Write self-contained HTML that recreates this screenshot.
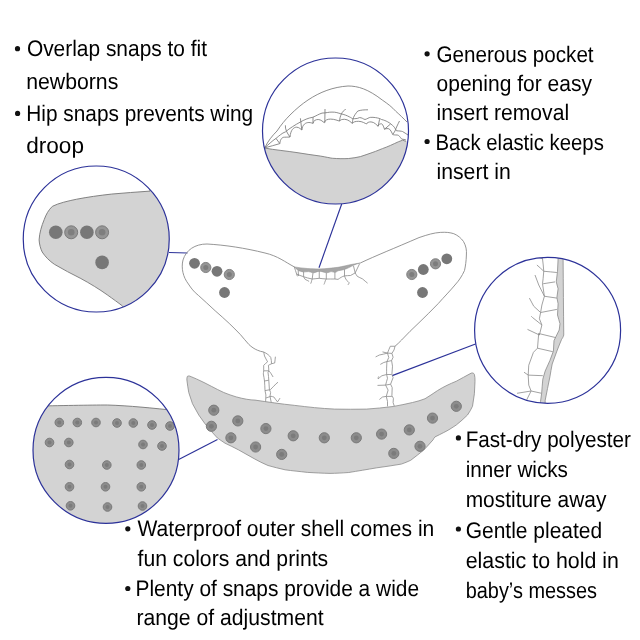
<!DOCTYPE html>
<html><head><meta charset="utf-8">
<style>
html,body{margin:0;padding:0;background:#fff;}
body{width:640px;height:640px;overflow:hidden;position:relative;}
svg{position:absolute;left:0;top:0;will-change:transform;}
text{font-family:"Liberation Sans",sans-serif;font-size:22.5px;fill:#000;text-rendering:geometricPrecision;}
</style></head><body>
<svg width="640" height="640" viewBox="0 0 640 640">
<defs>
<clipPath id="c1"><circle cx="335.5" cy="131" r="73"/></clipPath>
<clipPath id="c2"><circle cx="96.25" cy="239" r="73"/></clipPath>
<clipPath id="c3"><circle cx="547.6" cy="330.3" r="73"/></clipPath>
<clipPath id="c4"><circle cx="106" cy="450.3" r="73"/></clipPath>
</defs>

<!-- ============ connector lines ============ -->
<g stroke="#2c3299" stroke-width="1.15" fill="none">
<line x1="341.7" y1="204" x2="319" y2="267.7"/>
<line x1="169" y1="252.5" x2="187.5" y2="253"/>
<line x1="475.5" y1="344" x2="392.2" y2="375.6"/>
<line x1="178.7" y1="459.5" x2="217.5" y2="439.5"/>
</g>

<!-- ============ diaper top (inner) ============ -->
<g fill="none" stroke="#8a8a8a" stroke-width="0.9">
<path d="M294.5,267 C285,262 278,256 265,253 C245,248 225,245 207,244 C195,244 186,250 183,260 C181,268 183,277 188.4,284 C191,288 194,292 198.3,295.3 C204,300.5 209.5,305.5 215.2,310.8 C220,315 224.5,319 229.2,323.4 C233,327 237,331 240.5,334.7 C243.5,338 246,341.5 248.9,344.5 C251.5,347 254.5,349 257.4,350.2 C259.5,351 261.5,351.8 263.7,352"/>
<path d="M360.3,263 C375,256 395,248 419,237.6 C428,234.5 434,232.8 440.3,232.4 C446,232 450,232.5 453.8,233.7 C458,235.5 461,238 463.5,241.5 C466,246 466.8,250 466.4,255 C466.2,261 465.5,266 464.5,270.5 C462,276 459,280.5 455.8,284 C450,291 444,297 438.4,303.4 C432,310 425.5,316.5 419,322.7 C413,328.5 407,334 401.6,340 C399.5,342.3 397,344.5 395,346.25"/>
</g>
<!-- pocket opening band -->
<path d="M294.25,266.9 C299,267.6 303,268.2 307.5,268.5 C311,268.8 315,268.9 319.25,268.9 C326,268.8 332,268 338,267.3 C343,266.5 348,265 352.2,264.3 C355,263.8 358,263.3 360.3,263 C358,263.5 356.5,264 354.8,264.75 C352.5,265.8 351,266.5 349.6,267.3 C348,268 346,269 344.5,269.5 C342,270 340,270.5 338,270.8 C337,271.5 336,272.4 334.9,272.4 C333,272.2 332,271.6 331,271.6 C329.5,272 328.5,272.8 327,272.8 C324,272.5 321.5,271.2 319.25,271.2 C317,271.5 315,272.8 313,272.8 C311,272.5 310,271.6 308.3,271.6 C306,271.8 305,272 303.6,272 C301,271.5 299.5,271 298.2,270.5 C296.5,269 295.5,268 294.25,266.9 Z" fill="#a6a6a6" stroke="#8f8f8f" stroke-width="0.5"/>
<g fill="none" stroke="#8a8a8a" stroke-width="0.8">
<path d="M294.25,266.9 C295,269 296,272 296.6,274 C299,275 301,276 303.6,276.7 C306,277.5 309,278.5 312.2,279 C315,279 317,278.3 319.25,278.3 C322,278.5 324,279 326.3,279 C329,279 332,279 334.9,279 C336,279.2 337,279.3 338,279.4 C340,278 342,276.5 344.5,275.9 C346.5,275.7 348.5,275.5 350.5,275.5 C352,274.8 354,273.5 355.2,272.9"/>
<path d="M298.2,270.5 L298.5,276 M303.6,272 L303.6,276.7 M313,272.8 L312.2,279 M319.25,271 L319.25,278.3 M326.3,272.8 L326.3,279 M334.9,272.4 L334.9,279 M344.5,269.5 L344.5,275.9 M353.5,266 L355.2,272.9 M359.5,263.9 L355.2,272.9"/>
<path d="M296.6,274 L297.4,276.3 M303.6,276.7 C304,277.5 304.5,278.5 305.2,279.4 C306.5,280 308,280.8 309.1,281.4 M312.2,279 C311.8,280 311.5,281 311.4,281.8 C311.2,282.5 311,283 310.7,283.7 M326.3,279 C325.5,280 325,281.5 324.7,282.6 C324.5,283.3 324.2,284 323.9,284.5 M344.5,275.9 C345,277 345.5,278.8 346.2,279.8 C347.5,281 348.5,282 349.2,282.8 C349,283.5 348.5,284.3 347.9,284.9 M355.2,272.9 C356,274 356.5,275.5 357.3,276.35 C359,277.2 360.5,278 362.5,278.9 C364.5,280.5 366,282 367.6,283.2"/>
</g>
<!-- leg elastics -->
<g fill="none" stroke="#8a8a8a" stroke-width="0.8">
<path d="M263.7,352 C267,353.5 269.5,355.5 270.75,357.5 C271.3,359.5 271.5,361.5 271.5,363.75 C270.5,364.3 269.3,364.8 268.4,365.3 C268.6,367 268.8,369 268.8,370.8 C268.5,371.3 268.2,371.8 268,372.3 C268.3,375 268.8,378 268.8,380.2 C269,383.5 269.2,386.5 269.4,389.4 C269.8,390.5 270.3,391.5 270.6,392.5 C270.4,393.7 270.2,395 270,396.25 C270.4,398.3 270.8,400.5 271.25,402.5"/>
<path d="M263.7,352 C264,353 264.2,354.8 264.5,356 C265.5,358 266.5,360 267.6,361.8 C266.3,362.8 265,364 263.7,365.3 C263.7,367 263.7,369 263.7,370.8 C263.6,371.8 263.4,373 263.3,373.9 C263.7,376 264.2,378.5 264.5,381 C264.7,384 264.9,387.5 265,390.6 C265.3,392 265.6,393.5 265.9,395 C265.8,397.3 265.7,399.6 265.6,401.9"/>
<path d="M263.7,370.8 L268.8,370.8 M264.5,381 L268.8,380.2 M265,390.6 L270.6,389.6 M265.9,398 L271,396.25"/>
<path d="M271.5,363.75 C272.5,363.5 273.8,363.2 274.7,363 C275,361 275.2,358.5 275.4,356.7 M268.8,370.8 C269.5,371.5 270.2,372.5 270.75,373.1 C271.5,374.5 272.3,375.8 273.1,377 M270.6,389.5 C271.5,388.5 272.5,387.3 273.75,386.25 C275,384.8 276.5,383.2 278,382.2 M271,396.25 C272,396.5 273,396.8 273.75,396.9 C275,398.5 276.3,400.5 277.5,401.9 C278.5,400.5 279.3,399.3 280,398.1"/>
<path d="M395,346.25 L390.3,346.25"/>
<path d="M390.3,346.25 C389.3,348.5 388.3,351 387.5,353.1 C387.9,354.5 388.4,356 388.75,357.5 C388.2,358.8 387.5,360.3 386.9,361.6 C386.8,364 386.7,366 386.6,368.1 C386.6,370 386.6,372.5 386.6,374.5 C386.9,375.8 387.2,377 387.5,378.25 C386.8,380.5 386.2,383 385.6,385.1 C386.4,386.8 387.3,388.5 388.1,390.1 C387.5,392.3 386.8,394.3 386.25,396.4 C386.7,398 387.1,399.7 387.5,401.4 L387.5,406.4"/>
<path d="M395,346.25 C394.7,347.5 394.3,348.8 394,350 C393.3,351.2 392.5,352.3 391.9,353.4 C392.3,354.7 392.7,356 393.1,357.2 C392.6,358.3 392.1,359.5 391.6,360.6 C391.9,362.5 392.2,364.4 392.5,366.25 C392.3,369 392.1,371.7 391.9,374.4 C392.3,375.5 392.7,376.5 393.1,377.6 C392.3,379.8 391.4,382 390.6,384.2 C391.1,385.3 391.7,386.5 392.2,387.6 C392.1,390.3 392,393 391.9,395.75 C392.4,396.6 392.9,397.4 393.4,398.25 C393.3,399.7 393.2,401.2 393.1,402.6 C393.5,403.9 394,405.1 394.4,406.4"/>
<path d="M387.5,353.1 L391.9,353.4 M386.9,361.6 L391.6,360.6 M386.6,374.5 L391.6,374.5 M385.6,385.1 L390.6,384.2 M386.25,396.4 L391.9,396.4"/>
<path d="M387.5,353.1 L382.5,351.9 M387.5,353.1 C385,353.8 382,354.5 379.4,355 C378,355.7 376.8,356.3 375.6,356.9 M386.9,361.6 C385.8,361.9 384.8,362.2 383.75,362.5 C382.5,363.2 381.4,363.8 380.3,364.4 M386.6,374.5 C385,374.9 383.5,375.3 381.9,375.75 C380.5,376.8 379,378 378.1,378.9 C378,378 378.3,377 378.75,376.4 M385.6,385.1 L377.5,385.4 M386.25,396.4 C385,396.6 383.8,396.8 382.5,397 C381.5,397.8 380.4,398.7 379.4,399.5"/>
</g>
<!-- snaps on wings -->
<g>
<circle cx="194.5" cy="263.3" r="5.4" fill="#777"/>
<circle cx="205.8" cy="267.5" r="5.1" fill="#959595" stroke="#7a7a7a" stroke-width="0.9"/><circle cx="205.8" cy="267.5" r="2.5" fill="#7d7d7d"/>
<circle cx="217" cy="271.3" r="5.4" fill="#777"/>
<circle cx="229.3" cy="274.5" r="5.1" fill="#959595" stroke="#7a7a7a" stroke-width="0.9"/><circle cx="229.3" cy="274.5" r="2.5" fill="#7d7d7d"/>
<circle cx="224.5" cy="292.5" r="5.4" fill="#777"/>
<circle cx="411.8" cy="274.5" r="5.1" fill="#959595" stroke="#7a7a7a" stroke-width="0.9"/><circle cx="411.8" cy="274.5" r="2.5" fill="#7d7d7d"/>
<circle cx="423.3" cy="269.5" r="5.4" fill="#777"/>
<circle cx="435.5" cy="263.8" r="5.1" fill="#959595" stroke="#7a7a7a" stroke-width="0.9"/><circle cx="435.5" cy="263.8" r="2.5" fill="#7d7d7d"/>
<circle cx="446.8" cy="258.8" r="5.4" fill="#777"/>
<circle cx="422.5" cy="292.5" r="5.4" fill="#777"/>
</g>

<!-- ============ shell ============ -->
<path d="M189.4,376 C192,377 195.5,378.5 198.75,380 C203,382 207,384 211.25,386.25 C215.5,388.5 219.5,390.5 223.75,392.5 C228,394.3 232,395.6 236.25,396.9 C244,399 250,400 255,400.1 C268,402 281,404 294.8,405.4 C308,407 321,408.5 334.7,409.1 C345,409.3 356,409.3 366.5,409.1 C375,408.6 384,407.6 393.1,406.5 C400,405.5 406,403.8 412.5,402.5 C417,401.5 421,400.3 425,398.75 C429,396.5 433,393.5 437.5,390.6 C444,386.5 450,383.8 456.25,381.25 C461,378.8 466,375.8 471.25,373.1 C472.5,372.6 474,373.2 474.4,374.4 C475,376.5 475,379 475,381.25 C474.8,385.5 474.6,389.6 474.4,393.75 C473.8,398 473.2,402 472.5,406.25 C471,409.3 469.5,412.3 467.5,415 C464,418.5 460,422 456.25,425 C452,427.8 448,430.5 443.75,432.5 C441,434 438,435.4 435,436.9 C434,437.9 433.5,439 433.2,439.7 C430,443.2 427,446.7 423.8,450 C419.5,453.5 415,457 410.7,460.3 C407.5,461.8 404.5,463 401.3,464.1 C393,465.5 385,466.7 376.9,467.8 C367,469.5 358,471 348.75,472.5 C342,473 336,473.3 330,473.4 C322,473.2 315,472.8 307.5,472.4 C300,471.5 292,470.8 285.1,469.8 C279,468.5 273.5,467 268,465.5 C263,463.5 258.5,461 254.2,458.7 C249,455.8 244,453 238.75,450 C234,447.5 229.5,445.3 225,443.2 C222.5,441.5 220,439.8 217.5,438.1 C215.5,435.8 213.3,433.5 211.25,431.25 C209.2,428.8 207,426.3 205,423.75 C203,420.8 200.8,418 198.75,415 C196.7,411.3 194.5,407.5 192.5,403.75 C191.2,400 189.9,396.3 188.75,392.5 C188,388.3 187.4,384.2 186.9,380 C186.8,378.5 187,377 187.5,376.25 C188,376 188.7,375.9 189.4,376 Z" fill="#d3d3d3" stroke="#8a8a8a" stroke-width="0.8"/>
<g fill="#8c8c8c" stroke="#7a7a7a" stroke-width="1"><circle cx="213.8" cy="410.2" r="5.1"/><circle cx="211.4" cy="426.3" r="5.1"/><circle cx="237.8" cy="420.9" r="5.1"/><circle cx="230.9" cy="437.8" r="5.1"/><circle cx="265.9" cy="428.6" r="5.1"/><circle cx="255.6" cy="447" r="5.1"/><circle cx="293.2" cy="435.8" r="5.1"/><circle cx="281.7" cy="454.4" r="5.1"/><circle cx="324.3" cy="437.8" r="5.1"/><circle cx="356.3" cy="437.8" r="5.1"/><circle cx="381.6" cy="434.1" r="5.1"/><circle cx="409.3" cy="429.9" r="5.1"/><circle cx="432.5" cy="418.1" r="5.1"/><circle cx="456.3" cy="406.3" r="5.1"/><circle cx="393.8" cy="453.4" r="5.1"/><circle cx="420" cy="446.3" r="5.1"/></g>
<g fill="#7b7b7b"><circle cx="213.8" cy="410.2" r="2.4"/><circle cx="211.4" cy="426.3" r="2.4"/><circle cx="237.8" cy="420.9" r="2.4"/><circle cx="230.9" cy="437.8" r="2.4"/><circle cx="265.9" cy="428.6" r="2.4"/><circle cx="255.6" cy="447" r="2.4"/><circle cx="293.2" cy="435.8" r="2.4"/><circle cx="281.7" cy="454.4" r="2.4"/><circle cx="324.3" cy="437.8" r="2.4"/><circle cx="356.3" cy="437.8" r="2.4"/><circle cx="381.6" cy="434.1" r="2.4"/><circle cx="409.3" cy="429.9" r="2.4"/><circle cx="432.5" cy="418.1" r="2.4"/><circle cx="456.3" cy="406.3" r="2.4"/><circle cx="393.8" cy="453.4" r="2.4"/><circle cx="420" cy="446.3" r="2.4"/></g>

<!-- ============ circle 1: pocket opening ============ -->
<g clip-path="url(#c1)">
<rect x="262" y="58" width="147" height="147" fill="#fff"/>
<path d="M260,147.5 L264.3,148 C275,150 287,151 297,152.6 C305,154 313,155 320.6,156.1 C326,157 330,158 332.3,158.25 C338,158.7 344,158.8 348.7,158.5 C353,158 357,157.5 360.4,156.6 C364,155.5 368,154 372.1,152.6 C377,151 381,149 386.2,147.2 C392,145 397,142 402.6,140.2 L406.1,141.4 L415,141 L415,210 L255,210 Z" fill="#d3d3d3"/>
<g fill="none" stroke="#7a7a7a" stroke-width="0.85">
<path d="M264.3,148 C275,150 287,151 297,152.6 C305,154 313,155 320.6,156.1 C326,157 330,158 332.3,158.25 C338,158.7 344,158.8 348.7,158.5 C353,158 357,157.5 360.4,156.6 C364,155.5 368,154 372.1,152.6 C377,151 381,149 386.2,147.2 C392,145 397,142 402.6,140.2 L406.1,141.4"/>
<path d="M264.8,147.8 C268,141 272,136 277,131 C281,125 285,120 290,115 C296,109 302,104 308,100 C320,92 333,87 348,86 C358,86 368,89 382.25,100 C388,104 392,107 395.75,111.25 C400,115 403,118 407,122"/>
<path d="M264.8,147.8 C268,145 272,141 276,138.4 C279,136 282,133 285.4,131.9 C290,128 295,125 300.4,122 C304,120 308,118 312.6,117.3 C316,116 319,114 322,113.1 C326,113 329,112 332,112.1 C336,112 338,113 340.7,113.7 C344,114.5 347,115.5 349.25,116.8 C351,117.5 352,118.5 352.8,118.75 C355,118.5 357,119 359.4,117.6 C362,117.5 363,119 365,119.5 C367,119 369,117.5 370.25,117.4 C372,117 374,117.5 375.5,117.6 C378,118 380,118.5 381.5,119.5 C384,120 386,121 387.5,121.75 C390,123 392,125 393.5,126.25 C395,128 396,130 396.5,130.75 C399,131 401,131 402.5,131.5 C404,132.5 406,133.5 408,135"/>
<path d="M264.8,147.8 C270,146.5 275,145 279.8,143.6 C280.27,138.80 282.38,137.20 284.5,137.2 C286.98,137.20 289.18,137.04 290,137 C290.67,129.65 293.69,127.20 296.7,127.2 C299.00,127.20 301.04,129.44 301.8,130 C302.51,124.38 305.70,122.50 308.9,122.5 C310.75,122.50 312.38,123.22 313,123.4 C313.52,120.47 315.86,119.50 318.2,119.5 C320.92,119.50 323.34,122.06 324.25,122.7 C324.88,120.00 327.69,119.10 330.5,119.1 C334.55,119.10 338.15,120.70 339.5,121.1 C340.01,119.75 342.31,119.30 344.6,119.3 C348.11,119.30 351.23,122.58 352.4,123.4 C353.02,121.83 355.81,121.30 358.6,121.3 C362.16,121.30 365.31,123.46 366.5,124 C366.95,122.43 368.98,121.90 371,121.9 C374.19,121.90 377.04,125.38 378.1,126.25 C378.44,124.41 379.97,123.80 381.5,123.8 C382.85,123.80 384.05,128.16 384.5,129.25 C384.88,128.76 386.56,128.60 388.25,128.6 C390.27,128.60 392.07,133.32 392.75,134.5 C393.20,134.88 395.23,135.00 397.25,135 C398.94,135.00 400.44,137.60 401,138.25 C401.30,139.11 402.65,139.40 404,139.4 L406,140"/>
<path d="M276,138.4 L279.8,143.6 M285.4,125.3 C285,129 287,133 290,137 M300.4,118.3 L301.8,130 M313,117 L313,123.4 M325,109 L324.8,122.7 M345.7,109.4 C342,111 340,116 339.5,121.1 M352.4,123.4 C352.5,119 353.5,116 357.8,111 C361,110 364,109.8 368,109.8 M379.6,119.25 L378.1,126.25 M390.5,124 L384.5,129.25 M399.5,121 C398,124 396,128 395,131 L392.75,134.5"/>
</g>
</g>
<circle cx="335.5" cy="131" r="73" fill="none" stroke="#2c3299" stroke-width="1.2"/>

<!-- ============ circle 2: hip snaps ============ -->
<g clip-path="url(#c2)">
<path d="M150,191.1 C137,192 124,193 111.3,194.1 C99,195.5 88,197 76.7,199.2 C68,201 59,203 52.4,206.3 C48.5,210 46,214.5 44.2,219.6 C41.5,226 39.5,233 39.1,239.9 C39.3,244 40.5,248.5 42.2,252 C45.5,257 49.5,261 54.4,264.3 C63,269.5 72,274 80.8,278.5 C90,283.5 99,289 107.2,294.8 C113,299 118,302.5 122.5,306 L135,320 L185,320 L185,180 L150,180 Z" fill="#d3d3d3" stroke="#777" stroke-width="0.9"/>
<circle cx="55.8" cy="232.3" r="6.8" fill="#777"/>
<circle cx="71.2" cy="232.3" r="6.5" fill="#959595" stroke="#7a7a7a" stroke-width="1"/><circle cx="71.2" cy="232.3" r="3.3" fill="#7e7e7e"/>
<circle cx="86.9" cy="232.3" r="6.8" fill="#777"/>
<circle cx="102.1" cy="232.3" r="6.5" fill="#959595" stroke="#7a7a7a" stroke-width="1"/><circle cx="102.1" cy="232.3" r="3.3" fill="#7e7e7e"/>
<circle cx="102.1" cy="262.4" r="6.8" fill="#777"/>
</g>
<circle cx="96.25" cy="239" r="73" fill="none" stroke="#2c3299" stroke-width="1.2"/>

<!-- ============ circle 3: pleated elastic ============ -->
<g clip-path="url(#c3)">
<path d="M558.1,250 L563.1,250 L563.1,258.75 C563.3,285 563.5,310 563.75,335 C563.3,337 562.5,338 561.6,339.4 C560,343 558.5,347 556.9,351.1 C555.3,355.5 553.7,359.7 552.2,364 C551.4,368 550.6,372.5 549.9,376.9 C549.1,380.8 548.3,384.7 547.5,388.6 C546.7,392.5 546,396.4 545.2,400.3 L545,410 L540,410 L540.5,401.5 C540.9,398.8 541.3,396 541.65,393.3 C542,388.5 542.4,383.7 542.8,379.2 C543.6,376.5 544.4,373.7 545.2,371 C546.8,367.5 548.3,364 549.9,360.5 C551.1,357.4 552.2,354.2 553.4,351.1 C553.6,347.6 553.8,344 554,340.55 C555.7,337 557.5,333.5 559.2,330 L560,323.75 C559.2,321 558.3,318 557.5,315 C557.7,311.3 557.9,307.5 558.1,303.75 C557.7,301.7 557.3,299.5 556.9,297.5 C557.3,294.6 557.7,291.6 558.1,288.75 C557.5,286.5 556.8,284.2 556.25,281.9 C556.7,278.3 557.1,274.8 557.5,271.25 L558.1,258.75 Z" fill="#d3d3d3" stroke="#8a8a8a" stroke-width="0.8"/>
<g fill="none" stroke="#8a8a8a" stroke-width="0.8">
<path d="M542.5,250 L542.5,258.75 C543,263 543.5,267 543.75,271.25 C543.5,273.8 543.3,276.3 543.1,278.75 C542.9,280.4 542.7,282 542.5,283.75 C543.2,288 543.8,292 544.4,296.25 C543.5,299.2 542.7,302 541.9,305 C541.5,307.5 541,310 540.6,312.5 C540.2,314.6 539.8,316.7 539.4,318.75 C540.2,320.8 541.1,323 541.9,325 C541.1,328.3 540.2,331.6 539.4,335 L538.7,333.5 C538.3,338.4 537.9,343.3 537.5,348.2 C536.1,349.6 534.8,351 533.45,352.3 C531.9,356.6 530.3,360.9 528.75,365.2 C528.6,368.5 528.4,371.8 528.2,375.1 C528.4,378.4 528.6,381.8 528.75,385.1 C529.5,387 530.3,389 531.1,391 C529.7,393.7 528.3,396.4 527,399.2 L526,410"/>
<path d="M543.75,271.25 C548,271.7 552.5,272 556.9,272.5 M543.1,283.75 C547,283.1 551,282.5 555,281.9 M544.4,296.25 C548.5,296.9 552.7,297.5 556.9,298.1 M540.6,312.5 C546,311.5 551.5,310.4 556.9,309.4 M538.7,333.5 C544.4,334.9 550,336.3 555.7,337.6 M537.5,348.2 C542.6,349.4 547.7,350.5 552.8,351.7 M528.2,375.1 C533,375.3 538,375.5 542.8,375.7 M531.1,391 C534.6,391.8 538.1,392.5 541.65,393.3"/>
<path d="M543.75,271.25 C541.5,269 539.2,267 536.9,265 M544.4,296.25 C542.5,292.5 540.7,288.7 538.75,285 C537.5,281.7 536.2,278.3 535,275 M540.6,312.5 C538.3,310.4 536,308.3 533.75,306.25 C532.3,303.5 530.8,300.8 529.4,298.1 M541.9,325 C538.8,322.5 535.6,320 532.5,317.5 L531.25,316.25 M539.4,335 C535.5,333.1 531.5,331.3 527.5,329.4 M528.2,375.1 C526.8,374.1 525.4,373.2 524,372.2 M531.1,391 C526.4,391.8 521.7,392.5 517,393.3 M542.5,258.75 C540,257.8 537.5,256.8 535,256"/>
</g>
</g>
<circle cx="547.6" cy="330.3" r="73" fill="none" stroke="#2c3299" stroke-width="1.2"/>

<!-- ============ circle 4: shell snaps ============ -->
<g clip-path="url(#c4)">
<path d="M30,406.2 C60,405.6 90,405 107.5,405 C130,405.8 150,407.8 180,411 L185,530 L25,530 Z" fill="#d3d3d3" stroke="#777" stroke-width="0.9"/>
<g fill="#8d8d8d" stroke="#7a7a7a" stroke-width="1">
<circle cx="59.3" cy="422.5" r="4.3"/><circle cx="77.3" cy="422.5" r="4.3"/><circle cx="96" cy="422.5" r="4.3"/>
<circle cx="117" cy="423" r="4.3"/><circle cx="133.3" cy="423" r="4.3"/><circle cx="152" cy="425" r="4.3"/><circle cx="170" cy="426" r="4.3"/>
<circle cx="49.5" cy="442.5" r="4.3"/><circle cx="68.8" cy="442.5" r="4.3"/><circle cx="143" cy="444.5" r="4.3"/><circle cx="162" cy="446" r="4.3"/>
<circle cx="69.5" cy="464.5" r="4.3"/><circle cx="106.8" cy="465" r="4.3"/><circle cx="141.3" cy="465" r="4.3"/>
<circle cx="69.5" cy="486.8" r="4.3"/><circle cx="105.5" cy="486.8" r="4.3"/><circle cx="141.3" cy="486.8" r="4.3"/>
<circle cx="70.5" cy="505.8" r="4.3"/><circle cx="107.5" cy="507" r="4.3"/><circle cx="142.5" cy="506" r="4.3"/>
</g>
<g fill="#7b7b7b">
<circle cx="59.3" cy="422.5" r="2"/><circle cx="77.3" cy="422.5" r="2"/><circle cx="96" cy="422.5" r="2"/>
<circle cx="117" cy="423" r="2"/><circle cx="133.3" cy="423" r="2"/><circle cx="152" cy="425" r="2"/><circle cx="170" cy="426" r="2"/>
<circle cx="49.5" cy="442.5" r="2"/><circle cx="68.8" cy="442.5" r="2"/><circle cx="143" cy="444.5" r="2"/><circle cx="162" cy="446" r="2"/>
<circle cx="69.5" cy="464.5" r="2"/><circle cx="106.8" cy="465" r="2"/><circle cx="141.3" cy="465" r="2"/>
<circle cx="69.5" cy="486.8" r="2"/><circle cx="105.5" cy="486.8" r="2"/><circle cx="141.3" cy="486.8" r="2"/>
<circle cx="70.5" cy="505.8" r="2"/><circle cx="107.5" cy="507" r="2"/><circle cx="142.5" cy="506" r="2"/>
</g>
</g>
<circle cx="106" cy="450.3" r="73" fill="none" stroke="#2c3299" stroke-width="1.2"/>

<!-- ============ text ============ -->
<g fill="#111">
<circle cx="17.5" cy="48.7" r="2.6"/><circle cx="17.6" cy="113.4" r="2.6"/>
<circle cx="427.1" cy="53.8" r="2.6"/><circle cx="427.1" cy="141.5" r="2.6"/>
<circle cx="458.4" cy="437.9" r="2.6"/><circle cx="458.4" cy="529" r="2.6"/>
<circle cx="127.8" cy="528.8" r="2.6"/><circle cx="127.8" cy="588.5" r="2.6"/>
</g>
<g id="txt">
<text x="26.90" y="56" textLength="180.15" lengthAdjust="spacingAndGlyphs">Overlap snaps to fit</text>
<text x="26.20" y="88.8" textLength="92.10" lengthAdjust="spacingAndGlyphs">newborns</text>
<text x="26.30" y="121.1" textLength="226.89" lengthAdjust="spacingAndGlyphs">Hip snaps prevents wing</text>
<text x="26.20" y="153.1" textLength="57.75" lengthAdjust="spacingAndGlyphs">droop</text>

<text x="436.50" y="61.5" textLength="157.10" lengthAdjust="spacingAndGlyphs">Generous pocket</text>
<text x="436.50" y="90.5" textLength="155.54" lengthAdjust="spacingAndGlyphs">opening for easy</text>
<text x="436.50" y="120" textLength="132.59" lengthAdjust="spacingAndGlyphs">insert removal</text>
<text x="435.50" y="149.5" textLength="168.29" lengthAdjust="spacingAndGlyphs">Back elastic keeps</text>
<text x="436.50" y="178.5" textLength="74.22" lengthAdjust="spacingAndGlyphs">insert in</text>

<text x="465.70" y="446.6" textLength="165.24" lengthAdjust="spacingAndGlyphs">Fast-dry polyester</text>
<text x="465.70" y="476.8" textLength="102.27" lengthAdjust="spacingAndGlyphs">inner wicks</text>
<text x="465.70" y="507.1" textLength="140.67" lengthAdjust="spacingAndGlyphs">mostiture away</text>
<text x="465.70" y="537.5" textLength="136.47" lengthAdjust="spacingAndGlyphs">Gentle pleated</text>
<text x="465.70" y="567.5" textLength="153.27" lengthAdjust="spacingAndGlyphs">elastic to hold in</text>
<text x="465.70" y="597.5" textLength="131.28" lengthAdjust="spacingAndGlyphs">baby’s messes</text>

<text x="137.50" y="535.8" textLength="296.83" lengthAdjust="spacingAndGlyphs">Waterproof outer shell comes in</text>
<text x="137.50" y="566.4" textLength="190.64" lengthAdjust="spacingAndGlyphs">fun colors and prints</text>
<text x="135.50" y="595.9" textLength="283.55" lengthAdjust="spacingAndGlyphs">Plenty of snaps provide a wide</text>
<text x="136.50" y="625.3" textLength="187.06" lengthAdjust="spacingAndGlyphs">range of adjustment</text>
</g>
</svg>
</body></html>
